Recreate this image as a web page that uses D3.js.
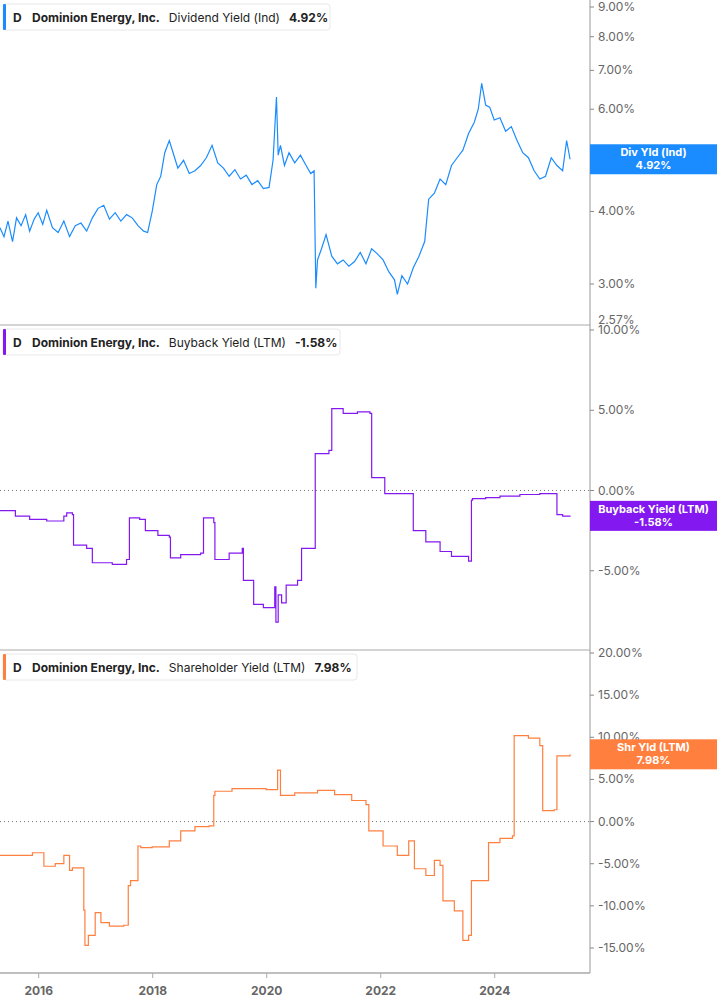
<!DOCTYPE html>
<html><head><meta charset="utf-8">
<script src="https://cdn.jsdelivr.net/npm/d3@7"></script>
<style>body{margin:0;background:#fff;font-family:Inter,"Liberation Sans",Arial,sans-serif}</style>
</head><body><div id="chart"></div>
<script>
// dates as decimal years
const divDates = [2015.33,2015.4,2015.47,2015.55,2015.62,2015.7,2015.78,2015.85,2015.93,2016.0,2016.08,2016.15,2016.25,2016.35,2016.45,2016.55,2016.65,2016.75,2016.85,2016.95,2017.05,2017.15,2017.25,2017.35,2017.45,2017.55,2017.65,2017.75,2017.85,2017.92,2018.0,2018.08,2018.15,2018.22,2018.3,2018.38,2018.45,2018.55,2018.65,2018.75,2018.85,2018.95,2019.05,2019.15,2019.25,2019.35,2019.45,2019.55,2019.65,2019.75,2019.85,2019.95,2020.05,2020.12,2020.18,2020.21,2020.25,2020.32,2020.4,2020.5,2020.6,2020.7,2020.78,2020.84,2020.87,2020.9,2020.97,2021.05,2021.15,2021.25,2021.35,2021.45,2021.55,2021.65,2021.75,2021.85,2021.95,2022.05,2022.15,2022.25,2022.3,2022.38,2022.48,2022.58,2022.68,2022.78,2022.85,2022.95,2023.05,2023.15,2023.25,2023.35,2023.45,2023.55,2023.65,2023.72,2023.78,2023.85,2023.92,2024.0,2024.1,2024.2,2024.3,2024.4,2024.5,2024.6,2024.7,2024.8,2024.9,2025.0,2025.1,2025.2,2025.27,2025.33];
const divValues = [3.75,3.62,3.85,3.55,3.9,3.78,3.95,3.7,3.88,3.98,3.8,4.02,3.75,3.68,3.85,3.62,3.78,3.82,3.7,3.9,4.05,4.1,3.88,3.98,3.85,3.95,3.9,3.78,3.7,3.68,4.0,4.45,4.6,5.05,5.3,5.0,4.75,4.9,4.65,4.7,4.8,4.95,5.2,4.85,4.75,4.6,4.72,4.55,4.62,4.45,4.52,4.38,4.4,4.9,6.3,5.0,5.2,4.8,5.05,4.85,5.0,4.8,4.65,4.7,2.95,3.3,3.45,3.65,3.35,3.25,3.3,3.22,3.28,3.4,3.25,3.45,3.38,3.3,3.15,3.05,2.88,3.1,3.0,3.2,3.35,3.55,4.2,4.3,4.55,4.45,4.8,4.95,5.1,5.45,5.7,6.0,6.65,6.1,6.05,5.75,5.8,5.5,5.6,5.3,5.05,4.95,4.7,4.55,4.6,4.95,4.8,4.7,5.3,4.92];
const bbDates = [2015.33,2015.6,2015.85,2016.15,2016.45,2016.5,2016.6,2016.62,2016.85,2016.95,2017.3,2017.55,2017.6,2017.78,2017.88,2018.1,2018.3,2018.32,2018.5,2018.85,2018.9,2019.05,2019.08,2019.1,2019.35,2019.58,2019.6,2019.78,2019.95,2020.15,2020.17,2020.21,2020.27,2020.35,2020.55,2020.62,2020.82,2020.86,2021.1,2021.15,2021.35,2021.6,2021.82,2021.85,2022.05,2022.08,2022.55,2022.58,2022.8,2023.05,2023.25,2023.55,2023.6,2023.62,2023.85,2024.1,2024.45,2024.8,2025.05,2025.1,2025.2,2025.33];
const bbValues = [-1.25,-1.6,-1.8,-1.9,-1.6,-1.4,-1.5,-3.4,-3.6,-4.5,-4.6,-4.3,-1.7,-1.8,-2.5,-2.8,-2.9,-4.2,-4.0,-3.9,-1.7,-1.7,-2.0,-4.3,-3.9,-3.6,-5.6,-7.1,-7.3,-6.0,-8.2,-6.5,-7.0,-5.9,-5.6,-3.6,-3.6,2.3,2.5,5.1,4.8,4.9,4.8,0.8,0.8,-0.2,-0.2,-2.5,-3.2,-3.8,-4.1,-4.4,-0.6,-0.5,-0.45,-0.35,-0.25,-0.2,-0.2,-1.5,-1.6,-1.58];
const shDates = [2015.33,2015.6,2015.9,2016.1,2016.3,2016.45,2016.55,2016.6,2016.8,2016.82,2016.88,2017.0,2017.1,2017.25,2017.5,2017.58,2017.62,2017.75,2017.8,2018.0,2018.3,2018.5,2018.75,2019.0,2019.08,2019.1,2019.4,2019.7,2020.0,2020.2,2020.25,2020.5,2020.9,2021.2,2021.5,2021.75,2021.8,2022.05,2022.3,2022.5,2022.6,2022.8,2022.95,2023.05,2023.1,2023.3,2023.45,2023.55,2023.6,2023.85,2023.9,2024.1,2024.32,2024.35,2024.6,2024.8,2024.85,2025.05,2025.1,2025.33];
const shValues = [-4.0,-4.0,-3.7,-5.3,-5.0,-4.0,-5.8,-5.5,-10.5,-14.7,-13.5,-10.8,-12.0,-12.4,-12.3,-7.6,-7.0,-2.9,-3.1,-3.0,-2.3,-1.1,-0.6,-0.5,3.1,3.6,3.9,3.9,3.8,6.1,3.1,3.4,3.7,3.2,2.5,2.0,-1.1,-2.9,-4.0,-2.3,-5.6,-6.4,-4.6,-5.2,-9.4,-10.6,-14.1,-13.5,-7.0,-7.0,-2.5,-2.0,-1.7,10.2,9.9,9.0,1.3,1.4,7.8,7.98];
const yearTicks = [2016,2018,2020,2022,2024];
const divTicks = [3,4,5,6,7,8,9];
const bbTicks = [10,5,0,-5];
const shTicks = [20,15,10,5,0,-5,-10,-15];

const W = 717, H = 1005, plotR = 590;
const svg = d3.select("#chart").append("svg").attr("width", W).attr("height", H);
const x = d3.scaleLinear().domain([2015.33, 2025.68]).range([0, plotR]);
const fmt = d => d.toFixed(2) + "%";

function panel(o) {
  const g = svg.append("g");
  g.append("line").attr("x1", plotR).attr("x2", plotR).attr("y1", o.top).attr("y2", o.bottom).attr("stroke", "#999");
  o.ticks.forEach(t => {
    const yy = o.y(t);
    g.append("line").attr("x1", plotR).attr("x2", plotR + 4).attr("y1", yy).attr("y2", yy).attr("stroke", "#888");
    g.append("text").attr("x", plotR + 8).attr("y", yy + 4).attr("font-size", 12).attr("fill", "#666").text(fmt(t));
  });
  if (o.extraTick != null) {
    const yy = o.y(o.extraTick);
    g.append("text").attr("x", plotR + 8).attr("y", yy + 1).attr("font-size", 12).attr("fill", "#666").text(fmt(o.extraTick));
  }
  if (o.zero) {
    g.append("line").attr("x1", 0).attr("x2", plotR).attr("y1", o.y(0)).attr("y2", o.y(0))
      .attr("stroke", "#777").attr("stroke-dasharray", "1,3");
  }
  const pts = o.dates.map((d, i) => [d, o.values[i]]);
  g.append("path").datum(pts).attr("fill", "none").attr("stroke", o.color).attr("stroke-width", 1.2)
    .attr("d", d3.line().curve(o.curve || d3.curveLinear).x(d => x(d[0])).y(d => o.y(d[1])));
  // header box
  const hb = g.append("g").attr("transform", `translate(3,${o.top + 4})`);
  hb.append("rect").attr("width", o.boxW).attr("height", 26).attr("rx", 3).attr("fill", "#fff").attr("stroke", "#e8e8e8");
  hb.append("rect").attr("width", 3).attr("height", 26).attr("rx", 1).attr("fill", o.color);
  const t = hb.append("text").attr("y", 18).attr("font-size", 12).attr("fill", "#222");
  t.append("tspan").attr("x", 10).attr("font-weight", "bold").text("D");
  t.append("tspan").attr("x", 29).attr("font-weight", "bold").text("Dominion Energy, Inc.");
  t.append("tspan").attr("dx", 9).text(o.metric);
  t.append("tspan").attr("dx", 9).attr("font-weight", "bold").text(fmt(o.last));
  const ly = o.y(o.last);
  g.append("rect").attr("x", plotR).attr("y", ly - 15).attr("width", W - plotR).attr("height", 30).attr("fill", o.color);
  g.append("text").attr("x", (plotR + W) / 2).attr("y", ly - 3).attr("text-anchor", "middle").attr("font-size", 11)
    .attr("font-weight", "bold").attr("fill", "#fff").text(o.tag);
  g.append("text").attr("x", (plotR + W) / 2).attr("y", ly + 10).attr("text-anchor", "middle").attr("font-size", 11)
    .attr("font-weight", "bold").attr("fill", "#fff").text(fmt(o.last));
  if (o.sep) g.append("line").attr("x1", 0).attr("x2", plotR).attr("y1", o.bottom).attr("y2", o.bottom).attr("stroke", "#aaa");
}

panel({top: 0, bottom: 325, y: d3.scaleLog().domain([2.57, 9]).range([323, 7]), ticks: divTicks, extraTick: 2.57,
  dates: divDates, values: divValues, color: "#1a8cff", metric: "Dividend Yield (Ind)", last: 4.92, tag: "Div Yld (Ind)", boxW: 327, sep: true});
panel({top: 325, bottom: 650, y: d3.scaleLinear().domain([-10, 10]).range([651, 330]), ticks: bbTicks, zero: true, curve: d3.curveStepAfter,
  dates: bbDates, values: bbValues, color: "#8318f0", metric: "Buyback Yield (LTM)", last: -1.58, tag: "Buyback Yield (LTM)", boxW: 337, sep: true});
panel({top: 650, bottom: 973, y: d3.scaleLinear().domain([-15, 20]).range([948, 653]), ticks: shTicks, zero: true, curve: d3.curveStepAfter,
  dates: shDates, values: shValues, color: "#ff7f3f", metric: "Shareholder Yield (LTM)", last: 7.98, tag: "Shr Yld (LTM)", boxW: 354, sep: false});

const xa = svg.append("g").attr("transform", "translate(0,973)")
  .call(d3.axisBottom(x).tickValues(yearTicks).tickFormat(d3.format("d")).tickSize(5).tickPadding(8));
xa.select(".domain").attr("stroke", "#aaa").attr("stroke-width", 1.5).attr("d", `M0,0H${plotR}`);
xa.selectAll(".tick line").attr("stroke", "#aaa");
xa.selectAll(".tick text").attr("font-size", 12).attr("font-weight", "bold").attr("fill", "#666").attr("font-family", "Inter,sans-serif");
</script></body></html>
